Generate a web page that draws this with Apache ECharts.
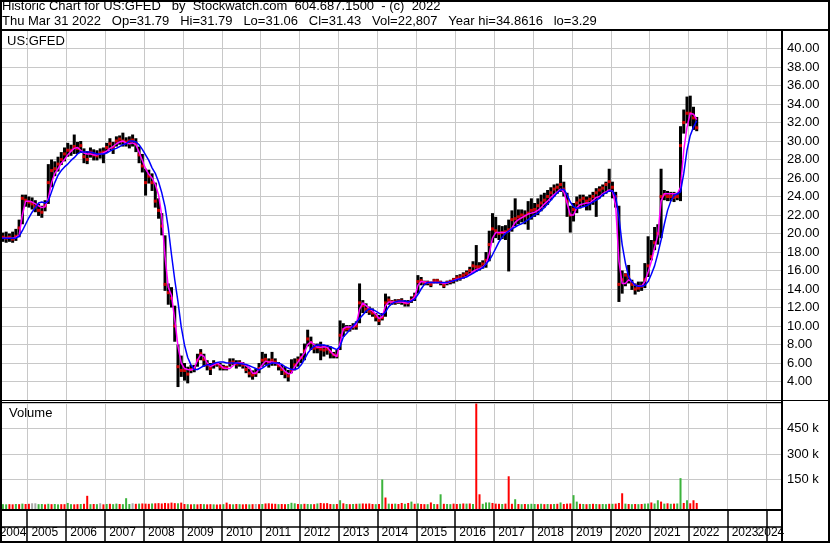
<!DOCTYPE html>
<html>
<head>
<meta charset="utf-8">
<title>Historic Chart for US:GFED</title>
<script src="https://cdn.jsdelivr.net/npm/echarts@6.0.0/dist/echarts.min.js"></script>
<style>
  html, body { margin: 0; padding: 0; background: #fff; }
  #chart { width: 830px; height: 543px; }
</style>
</head>
<body>
<div id="chart"></div>
<script>
// monthly data, April 2004 .. March 2022 (one row per calendar year)
var startYear = 2004;
var startMonth = 3; // 0 = January, so 3 = April

var closes = [
  19.3, 19.6, 19.5, 19.6, 19.4, 19.7, 20.6, 23.8, 23.6,
  23.4, 23.2, 22.9, 22.5, 22.3, 23.0, 25.5, 26.8, 27.0, 27.5, 28.0, 28.6,
  29.0, 29.0, 29.4, 29.2, 29.5, 28.3, 28.0, 28.8, 28.5, 28.4, 28.7, 28.8,
  29.3, 29.7, 29.3, 30.0, 30.2, 30.0, 29.9, 30.0, 30.1, 29.7, 28.5, 27.3,
  25.5, 26.2, 25.5, 23.5, 22.5, 20.8, 14.5, 13.6, 13.0, 10.0, 5.6, 5.2,
  5.2, 4.8, 5.3, 5.4, 6.3, 7.0, 6.4, 5.8, 5.4, 5.9, 5.9, 5.6,
  5.5, 5.5, 6.0, 6.1, 5.9, 6.0, 5.8, 5.3, 4.9, 4.7, 4.9, 5.4,
  6.3, 6.4, 6.1, 6.3, 6.1, 5.7, 5.3, 4.9, 4.6, 5.2, 5.8, 6.3,
  6.6, 7.3, 8.6, 8.2, 7.6, 7.7, 7.5, 7.4, 7.5, 7.2, 6.9, 6.8,
  9.0, 9.6, 9.7, 9.7, 9.9, 10.0, 12.5, 12.2, 11.8, 11.6, 11.4, 11.0,
  10.6, 10.9, 12.5, 12.8, 12.6, 12.6, 12.7, 12.7, 12.5, 12.5, 12.8, 13.2,
  14.8, 14.9, 14.7, 14.7, 14.5, 14.9, 14.9, 14.7, 14.4, 14.7, 14.8, 15.0,
  15.2, 15.3, 15.5, 15.7, 16.0, 16.5, 16.4, 16.4, 16.7, 17.1, 18.8, 20.5,
  20.3, 20.0, 20.1, 20.2, 20.4, 21.5, 21.6, 21.8, 22.0, 21.9, 22.2, 22.5,
  22.6, 23.0, 23.3, 23.6, 24.0, 24.4, 24.8, 25.0, 25.3, 24.8, 23.5, 22.0,
  22.6, 23.3, 23.6, 23.8, 23.5, 23.7, 24.0, 24.4, 24.7, 24.9, 25.3, 25.6,
  25.0, 24.0, 14.5, 15.0, 15.5, 15.3, 14.5, 14.0, 14.1, 14.3, 15.0, 16.5,
  17.5, 19.0, 20.0, 24.0, 24.2, 24.0, 24.0, 23.9, 24.0, 29.5, 32.0, 33.0,
  33.0, 32.5, 31.43
];

var highs = [
  20.0, 20.1, 20.2, 20.0, 20.2, 20.5, 21.5, 24.2, 24.2,
  24.0, 23.9, 23.6, 23.2, 23.0, 23.6, 27.5, 28.0, 27.8, 28.3, 28.8, 29.3,
  29.8, 29.6, 30.7, 29.9, 30.0, 29.2, 28.9, 29.3, 29.1, 29.0, 29.2, 29.3,
  29.8, 30.3, 29.9, 30.5, 30.6, 30.9, 30.4, 30.5, 30.7, 30.3, 29.4, 28.6,
  27.0, 26.9, 26.5, 25.5, 23.8, 22.2, 19.8, 14.6, 14.2, 12.2, 8.0, 6.8,
  6.0, 5.6, 5.8, 5.8, 7.0, 7.5, 7.0, 6.3, 6.0, 6.3, 6.1, 6.0,
  5.8, 5.7, 6.5, 6.5, 6.3, 6.3, 6.1, 5.8, 5.4, 5.2, 5.4, 6.0,
  7.2, 7.0, 6.5, 7.2, 6.5, 6.1, 5.8, 5.6, 5.25, 6.4, 6.5, 6.7,
  7.05, 8.1, 9.6, 8.85, 8.1, 8.1, 8.3, 7.95, 7.95, 7.8, 7.2, 7.4,
  10.6, 10.3, 10.1, 10.1, 10.3, 10.5, 14.6, 12.8, 12.45, 12.1, 11.9, 11.4,
  11.2, 11.4, 13.5, 13.2, 12.8, 12.9, 12.9, 13.0, 12.8, 12.8, 13.2, 13.6,
  15.5, 15.3, 14.9, 14.9, 14.8, 15.1, 15.1, 14.9, 14.7, 14.9, 15.0, 15.2,
  15.5, 15.6, 15.8, 16.0, 16.4, 17.0, 18.75, 16.9, 17.1, 18.0, 20.3, 22.2,
  21.8, 20.9, 20.8, 20.9, 21.5, 22.5, 23.8, 22.6, 22.6, 22.5, 23.5, 23.8,
  23.3, 23.8, 24.2, 24.4, 24.7, 25.0, 25.3, 25.4, 27.4, 25.6, 24.4, 23.0,
  23.3, 24.0, 24.2, 24.2, 24.0, 24.2, 24.5, 24.9, 25.1, 25.3, 25.6, 27.0,
  25.6, 24.5, 23.0, 16.0, 15.7, 16.6, 15.0, 14.6, 14.8, 14.8, 16.8, 19.7,
  19.3, 20.7, 21.0, 27.0, 24.7, 24.6, 24.5, 24.5, 24.4, 31.6, 33.4, 34.8,
  34.9, 33.7, 32.6
];

var lows = [
  18.7, 19.1, 19.0, 19.1, 19.0, 19.2, 19.6, 21.0, 22.9,
  22.8, 22.6, 22.3, 21.9, 21.7, 22.4, 23.2, 25.0, 26.2, 26.7, 27.4, 27.8,
  28.3, 28.4, 28.6, 28.6, 28.7, 27.6, 27.5, 28.2, 27.9, 27.9, 28.1, 27.6,
  28.7, 29.0, 28.6, 29.4, 29.6, 29.4, 29.4, 29.2, 29.4, 28.8, 27.6, 26.6,
  24.1, 25.4, 24.6, 22.8, 21.6, 19.8, 13.8, 12.3, 12.0, 8.3, 3.4, 4.5,
  4.1, 3.8, 4.9, 5.0, 5.6, 6.3, 5.6, 5.2, 4.7, 5.4, 5.6, 5.2,
  5.2, 5.2, 5.6, 5.8, 5.4, 5.6, 5.4, 4.9, 4.45, 4.2, 4.5, 4.9,
  5.6, 5.8, 5.5, 5.7, 5.7, 5.2, 4.7, 4.35, 4.0, 4.9, 5.2, 5.6,
  6.0, 6.3, 7.8, 7.4, 7.05, 7.05, 6.3, 6.7, 6.9, 6.5, 6.5, 6.5,
  7.4, 8.85, 9.4, 9.4, 9.6, 9.6, 10.3, 11.4, 11.4, 11.2, 11.0, 10.5,
  10.1, 10.6, 11.0, 12.3, 12.3, 12.3, 12.4, 12.3, 12.1, 12.1, 12.5, 12.7,
  13.5, 14.4, 14.4, 14.4, 14.2, 14.6, 14.6, 14.4, 14.1, 14.4, 14.5, 14.6,
  14.8, 14.9, 15.1, 15.3, 15.5, 15.9, 15.9, 16.0, 16.2, 16.3, 17.0, 19.0,
  19.5, 19.3, 19.4, 19.3, 15.9, 20.2, 20.8, 21.0, 21.2, 21.0, 20.4, 21.5,
  21.8, 22.0, 22.4, 22.8, 23.1, 23.6, 24.0, 24.3, 24.5, 24.0, 21.8, 20.1,
  21.3, 22.2, 22.7, 22.9, 22.5, 22.5, 23.1, 21.8, 23.8, 24.0, 24.3, 24.5,
  23.8, 22.8, 12.6, 13.5, 14.3, 14.6, 13.9, 13.4, 13.7, 13.8, 14.1, 15.3,
  17.1, 18.2, 18.8, 19.5, 23.6, 23.5, 23.5, 23.4, 23.6, 23.5, 30.8, 31.9,
  31.6, 31.2, 31.06
];

// short moving average (magenta)
var maShort = [
  19.5, 19.5, 19.5, 19.5, 19.5, 19.6, 19.8, 22.0, 23.5,
  23.5, 23.4, 23.2, 23.0, 22.8, 22.9, 23.8, 25.5, 26.5, 27.0, 27.6, 28.0,
  28.5, 28.9, 29.2, 29.3, 29.0, 28.7, 28.6, 28.6, 28.5, 28.5, 28.6, 28.7,
  28.9, 29.2, 29.4, 29.7, 29.9, 30.0, 29.8, 29.7, 29.8, 29.6, 28.8, 27.9,
  27.0, 26.4, 26.0, 25.3, 24.2, 21.9, 17.5, 14.2, 13.3, 10.7, 7.8, 6.0,
  5.4, 5.3, 5.25, 5.4, 6.3, 6.9, 6.7, 6.0, 5.6, 5.8, 6.0, 5.8,
  5.45, 5.4, 5.4, 5.7, 6.0, 6.0, 6.0, 5.7, 5.5, 4.9, 4.9, 5.3,
  5.8, 6.2, 6.1, 6.1, 6.0, 5.9, 5.5, 5.1, 4.85, 4.9, 5.6, 6.1,
  6.6, 7.1, 8.0, 8.3, 7.95, 7.7, 7.7, 7.75, 7.7, 7.3, 6.9, 6.7,
  8.2, 9.7, 9.9, 9.9, 9.9, 10.2, 11.8, 12.5, 12.2, 11.9, 11.6, 11.3,
  10.8, 11.0, 12.2, 12.6, 12.6, 12.6, 12.6, 12.6, 12.5, 12.5, 12.8, 13.1,
  14.4, 14.8, 14.75, 14.7, 14.7, 14.7, 14.7, 14.7, 14.6, 14.65, 14.8, 14.9,
  15.05, 15.1, 15.2, 15.35, 15.6, 15.9, 16.1, 16.2, 16.4, 16.7, 17.8, 19.5,
  20.1, 20.1, 20.1, 20.1, 20.2, 20.6, 21.2, 21.5, 21.7, 21.9, 22.1, 22.2,
  22.3, 22.5, 22.8, 23.2, 23.5, 23.9, 24.2, 24.5, 24.8, 24.5, 23.3, 22.0,
  22.0, 22.8, 23.1, 23.2, 23.3, 23.3, 23.6, 23.9, 24.0, 24.3, 24.5, 24.7,
  24.6, 23.0, 17.0, 14.6, 14.6, 15.0, 14.8, 14.4, 14.35, 14.3, 14.8, 15.8,
  17.0, 18.5, 19.8, 23.5, 24.3, 24.3, 24.3, 24.3, 24.3, 25.0, 29.0, 31.5,
  33.0, 32.9, 32.3
];

// long moving average (blue)
var maLong = [
  19.5, 19.5, 19.5, 19.5, 19.5, 19.5, 19.7, 20.3, 21.0,
  21.7, 22.3, 22.8, 23.3, 23.4, 23.3, 23.5, 24.5, 25.5, 26.3, 26.8, 27.2,
  27.5, 27.9, 28.2, 28.6, 28.8, 28.8, 28.8, 28.8, 28.7, 28.6, 28.6, 28.6,
  28.7, 28.9, 29.1, 29.2, 29.4, 29.6, 29.7, 30.0, 30.0, 29.9, 29.6, 29.1,
  28.5, 27.9, 27.1, 26.5, 25.6, 24.4, 22.9, 20.6, 17.7, 15.0, 12.6, 9.9,
  7.95, 6.6, 5.8, 5.3, 5.3, 5.5, 5.7, 5.8, 5.8, 5.95, 6.05, 6.1,
  6.1, 6.0, 6.0, 6.0, 6.0, 5.95, 5.9, 5.85, 5.7, 5.55, 5.4, 5.25,
  5.45, 5.7, 5.85, 6.0, 6.0, 6.0, 5.85, 5.6, 5.45, 5.3, 5.3, 5.4,
  5.8, 6.4, 7.05, 7.5, 7.8, 7.95, 7.95, 7.95, 7.85, 7.75, 7.6, 7.45,
  7.8, 8.8, 9.2, 9.6, 10.0, 10.4, 10.8, 11.2, 11.6, 11.85, 11.8, 11.6,
  11.4, 11.2, 11.5, 12.1, 12.4, 12.6, 12.7, 12.7, 12.7, 12.6, 12.7, 12.9,
  13.4, 14.0, 14.5, 14.7, 14.7, 14.7, 14.7, 14.7, 14.7, 14.7, 14.8, 14.9,
  15.0, 15.1, 15.2, 15.3, 15.5, 15.7, 15.9, 16.1, 16.3, 16.7, 17.1, 17.7,
  18.4, 19.1, 19.6, 20.0, 20.25, 20.5, 20.7, 20.9, 21.05, 21.25, 21.5, 21.75,
  22.0, 22.2, 22.5, 22.8, 23.2, 23.6, 24.0, 24.4, 24.7, 24.8, 24.2, 23.4,
  22.9, 22.7, 22.8, 22.9, 23.0, 23.2, 23.4, 23.6, 23.8, 24.2, 24.4, 24.6,
  24.6, 24.0, 21.8, 18.8, 16.8, 15.3, 14.8, 14.4, 14.3, 14.3, 14.4, 14.8,
  15.6, 16.5, 17.8, 19.3, 21.0, 22.5, 23.5, 24.1, 24.3, 24.5, 26.5, 29.0,
  30.6, 31.5, 32.2
];

// volume in thousands (tallest day in the month), colour g = up, r = down, n = unchanged
var volumes = [
  6, 5, 4, 5, 4, 6, 5, 8, 6,
  7, 10, 10, 5, 6, 4, 7, 5, 6, 4, 5, 5,
  12, 5, 4, 5, 6, 7, 54, 5, 6, 5, 10, 4,
  6, 7, 5, 8, 6, 5, 40, 6, 10, 7, 8, 9,
  8, 7, 9, 10, 11, 9, 12, 10, 14, 11, 10, 14,
  6, 5, 4, 5, 4, 6, 5, 4, 5, 4, 3, 4,
  5, 14, 5, 4, 6, 5, 4, 5, 4, 5, 6, 5,
  6, 9, 10, 8, 7, 5, 6, 5, 6, 13, 10, 6,
  5, 7, 6, 5, 5, 9, 12, 10, 11, 6, 5, 6,
  28, 10, 6, 5, 6, 7, 8, 9, 8, 9, 6, 5,
  6, 150, 44, 8, 7, 8, 6, 12, 7, 12, 20, 7,
  9, 6, 5, 5, 15, 6, 5, 63, 7, 6, 5, 8,
  6, 7, 9, 8, 9, 6, 597, 63, 7, 15, 15, 12,
  8, 7, 6, 8, 169, 7, 34, 6, 5, 6, 5, 7,
  6, 5, 7, 5, 6, 5, 6, 7, 15, 6, 8, 9,
  58, 20, 7, 6, 5, 6, 7, 6, 5, 6, 5, 7,
  7, 8, 12, 69, 8, 6, 5, 6, 5, 6, 8, 9,
  15, 9, 28, 20, 8, 10, 7, 8, 9, 158, 12, 28,
  10, 28, 12
];
var volColors = 'rggrrgrgr' +
  'rnnggrgrggrr' + 'ggrrgrrgrgnr' + 'grggrgggnrgr' + 'rrgrrrrrrrgr' +
  'rgrgrrgrrgrr' + 'grrgrgrrgrnr' + 'grrrrgrrgggr' + 'grggrgrrrrgr' +
  'grgrgrgrrrrg' + 'rgrgrgrrgrgr' + 'grrgrgrgrggr' + 'rgrgrgrrgggr' +
  'rrgrrrgrgrgg' + 'grgrgrgrgrrr' + 'ggrgrgrgrggr' + 'grrrgrgrgrgg' +
  'rggrgrgrggrg' + 'rrr';

var titleLine = 'Historic Chart for US:GFED   by  Stockwatch.com  604.687.1500  - (c)  2022';
var quoteLine = 'Thu Mar 31 2022   Op=31.79   Hi=31.79   Lo=31.06   Cl=31.43   Vol=22,807   Year hi=34.8616   lo=3.29';

var xMin = 2004.3, xMax = 2024.4;
var priceMin = 2, priceMax = 42;
var volMin = -29.4, volMax = 600;

var font = '"Liberation Sans", Arial, sans-serif';
var gridGray = '#c8c8c8';
var barColors = { g: '#3cb43c', r: '#ff0000', n: '#a8a8a8' };

function monthTime(i) {
  var m = startMonth + i;
  return startYear + Math.floor(m / 12) + ((m % 12) + 0.5) / 12;
}

var rangeData = [], closeData = [], shortData = [], longData = [], volData = [];
for (var i = 0; i < closes.length; i++) {
  var t = monthTime(i);
  rangeData.push([t, highs[i], lows[i]]);
  closeData.push([t, closes[i]]);
  shortData.push([t, maShort[i]]);
  longData.push([t, maLong[i]]);
  volData.push([t, volumes[i]]);
}

function yearAxis(gridIndex, lineColor, lineWidth) {
  return {
    type: 'value', gridIndex: gridIndex, min: xMin, max: xMax,
    splitNumber: 20, minInterval: 1, maxInterval: 1,
    axisLine: { show: false }, axisTick: { show: false },
    axisLabel: { show: false },
    splitLine: { show: true, lineStyle: { color: lineColor, width: lineWidth } }
  };
}

var labelAxis = yearAxis(3, '#000', 1.5);
labelAxis.axisLabel = {
  show: true, inside: true, margin: 3, align: 'center',
  showMinLabel: true, showMaxLabel: false,
  color: '#000', fontSize: 12, fontFamily: font,
  formatter: function (v) {
    if (v > xMax - 0.01) return '';
    var y = Math.floor(v + 1e-6);
    var s = v < 2004.5 ? 'first' : (y === 2024 ? 'last' : 'mid');
    return '{' + s + '|' + y + '}';
  },
  rich: {
    first: { padding: [0, 0, 0, 26], fontSize: 12, fontFamily: font, color: '#000' },
    mid: { padding: [0, 0, 0, 35], fontSize: 12, fontFamily: font, color: '#000' },
    last: { padding: [0, 0, 0, 9], fontSize: 12, fontFamily: font, color: '#000' }
  }
};

function line(x1, y1, x2, y2, w) {
  return { type: 'line', silent: true, z: 100,
    shape: { x1: x1, y1: y1, x2: x2, y2: y2 },
    style: { stroke: '#000', lineWidth: w } };
}
function label(x, y, text) {
  return { type: 'text', silent: true, z: 100, x: x, y: y,
    style: { text: text, font: '13px ' + font, fill: '#000', verticalAlign: 'middle' } };
}

var chart = echarts.init(document.getElementById('chart'));
chart.setOption({
  animation: false,
  backgroundColor: '#fff',
  grid: [
    { left: 0, top: 30, width: 782, height: 370, outerBoundsMode: 'none' },
    { left: 0, top: 403, width: 782, height: 107, outerBoundsMode: 'none' },
    { left: 0, top: 510, width: 782, height: 17, outerBoundsMode: 'none' },
    { left: 0, top: 527, width: 782, height: 15, outerBoundsMode: 'none' }
  ],
  xAxis: [yearAxis(0, gridGray, 1), yearAxis(1, gridGray, 1), yearAxis(2, '#000', 1.5), labelAxis],
  yAxis: [
    {
      type: 'value', gridIndex: 0, position: 'right', min: priceMin, max: priceMax, interval: 2,
      axisLine: { show: false }, axisTick: { show: false },
      splitLine: { lineStyle: { color: gridGray } },
      axisLabel: { margin: 5, color: '#000', fontSize: 13, fontFamily: font,
        showMinLabel: false, showMaxLabel: false,
        formatter: function (v) { return v.toFixed(2); } }
    },
    {
      type: 'value', gridIndex: 1, position: 'right', min: volMin, max: volMax,
      splitNumber: 4, minInterval: 150, maxInterval: 150,
      axisLine: { show: false }, axisTick: { show: false },
      splitLine: { lineStyle: { color: [gridGray, 'rgba(0,0,0,0)', gridGray, gridGray, gridGray, gridGray] } },
      axisLabel: { margin: 5, color: '#000', fontSize: 13, fontFamily: font,
        showMinLabel: false, showMaxLabel: false,
        formatter: function (v) { return v > 0 && v < volMax ? v + ' k' : ''; } }
    },
    { type: 'value', gridIndex: 2, min: 0, max: 1, show: false },
    { type: 'value', gridIndex: 3, min: 0, max: 1, show: false }
  ],
  series: [
    {
      type: 'custom', name: 'range', xAxisIndex: 0, yAxisIndex: 0, z: 2,
      encode: { x: 0, y: [1, 2] },
      renderItem: function (params, api) {
        var hi = api.coord([api.value(0), api.value(1)]);
        var lo = api.coord([api.value(0), api.value(2)]);
        return { type: 'rect',
          shape: { x: hi[0] - 1.5, y: hi[1], width: 3, height: lo[1] - hi[1] },
          style: { fill: '#000' } };
      },
      data: rangeData
    },
    {
      type: 'scatter', name: 'close', xAxisIndex: 0, yAxisIndex: 0, z: 3,
      symbol: 'rect', symbolSize: [3, 3], itemStyle: { color: '#ff0000' },
      data: closeData
    },
    {
      type: 'line', name: 'short MA', xAxisIndex: 0, yAxisIndex: 0, z: 4,
      showSymbol: false, symbol: 'none',
      lineStyle: { color: '#ff00ff', width: 1.5 },
      data: shortData
    },
    {
      type: 'line', name: 'long MA', xAxisIndex: 0, yAxisIndex: 0, z: 5,
      showSymbol: false, symbol: 'none',
      lineStyle: { color: '#0000ff', width: 1.5 },
      data: longData
    },
    {
      type: 'custom', name: 'volume', xAxisIndex: 1, yAxisIndex: 1, z: 2,
      encode: { x: 0, y: 1 },
      renderItem: function (params, api) {
        var top = api.coord([api.value(0), api.value(1)]);
        var base = api.coord([api.value(0), volMin]);
        return { type: 'rect',
          shape: { x: top[0] - 1, y: top[1], width: 2, height: base[1] - top[1] },
          style: { fill: barColors[volColors.charAt(params.dataIndex)] } };
      },
      data: volData
    }
  ],
  graphic: [
    label(2, 6.5, titleLine),
    label(2, 21.5, quoteLine),
    label(7, 41, 'US:GFED'),
    label(9, 413.5, 'Volume'),
    line(0, 30, 830, 30, 2),
    line(0, 400.5, 830, 400.5, 1),
    line(0, 402.5, 782, 402.5, 1),
    line(0, 510, 782, 510, 2),
    line(0, 527, 782, 527, 1.5),
    line(782, 30, 782, 543, 2),
    { type: 'rect', silent: true, z: 100,
      shape: { x: 1, y: 1, width: 828, height: 541 },
      style: { fill: 'none', stroke: '#000', lineWidth: 2 } }
  ]
});
</script>
</body>
</html>
